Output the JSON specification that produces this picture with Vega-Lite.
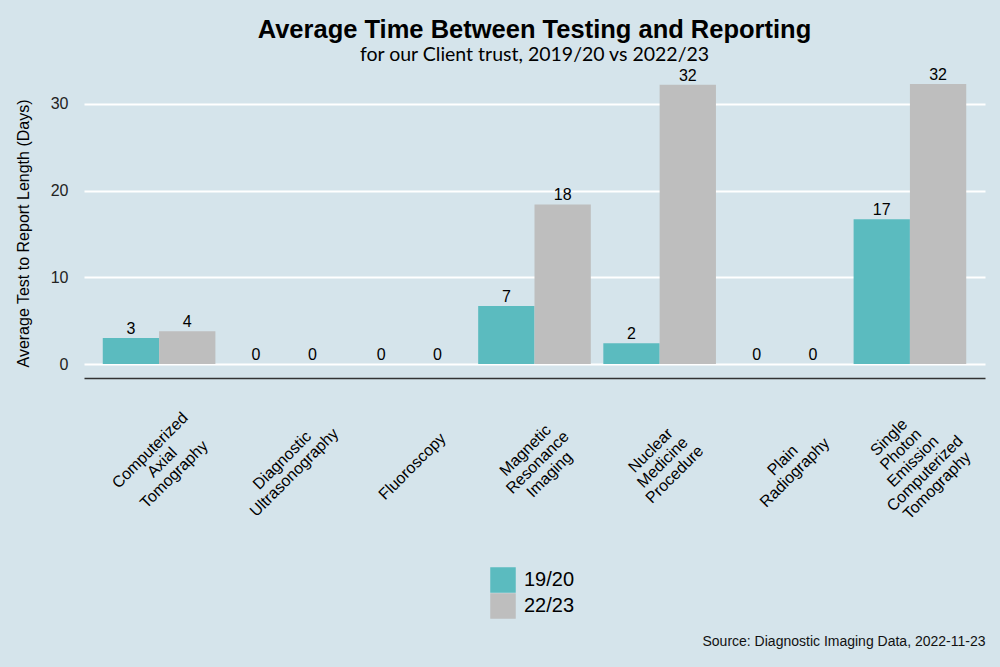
{
  "$schema": "https://vega.github.io/schema/vega-lite/v6.json",
  "autosize": "none",
  "width": 901,
  "height": 308,
  "padding": {"left": 84, "top": 70, "right": 15, "bottom": 289},
  "background": "#d5e4eb",
  "title": {
    "text": "Average Time Between Testing and Reporting",
    "subtitle": "for our Client trust, 2019/20 vs 2022/23",
    "anchor": "middle",
    "frame": "group",
    "font": "Liberation Sans",
    "fontSize": 25.5,
    "fontWeight": "bold",
    "color": "#000000",
    "subtitleFont": "Lato",
    "subtitleFontSize": 19.5,
    "subtitleColor": "#000000",
    "subtitlePadding": 3,
    "offset": 2
  },
  "config": {
    "view": {"stroke": null},
    "font": "Liberation Sans",
    "axis": {"labelFont": "Liberation Sans", "titleFont": "Liberation Sans"}
  },
  "data": {
    "values": [
      {"modality": "Computerized Axial Tomography", "year": "19/20", "days": 3.0},
      {"modality": "Computerized Axial Tomography", "year": "22/23", "days": 3.8},
      {"modality": "Diagnostic Ultrasonography", "year": "19/20", "days": 0},
      {"modality": "Diagnostic Ultrasonography", "year": "22/23", "days": 0},
      {"modality": "Fluoroscopy", "year": "19/20", "days": 0},
      {"modality": "Fluoroscopy", "year": "22/23", "days": 0},
      {"modality": "Magnetic Resonance Imaging", "year": "19/20", "days": 6.7},
      {"modality": "Magnetic Resonance Imaging", "year": "22/23", "days": 18.4},
      {"modality": "Nuclear Medicine Procedure", "year": "19/20", "days": 2.4},
      {"modality": "Nuclear Medicine Procedure", "year": "22/23", "days": 32.2},
      {"modality": "Plain Radiography", "year": "19/20", "days": 0},
      {"modality": "Plain Radiography", "year": "22/23", "days": 0},
      {"modality": "Single Photon Emission Computerized Tomography", "year": "19/20", "days": 16.7},
      {"modality": "Single Photon Emission Computerized Tomography", "year": "22/23", "days": 32.3}
    ]
  },
  "encoding": {
    "x": {
      "field": "modality",
      "type": "nominal",
      "sort": null,
      "scale": {"paddingInner": 0.1, "paddingOuter": 0.15},
      "axis": {
        "title": "Source: Diagnostic Imaging Data, 2022-11-23",
        "titleX": 901,
        "titleY": 267,
        "titleAlign": "right",
        "titleBaseline": "alphabetic",
        "titleFontSize": 14,
        "titleFontWeight": "normal",
        "titleColor": "#111111",
        "labelExpr": "split(datum.label, ' ')",
        "labelAngle": -45,
        "labelAlign": "center",
        "labelBaseline": "middle",
        "labelOffset": {
          "condition": [
            {"test": "length(split(datum.label, ' ')) >= 5", "value": -21},
            {"test": "length(split(datum.label, ' ')) == 3", "value": -9},
            {"test": "length(split(datum.label, ' ')) == 2", "value": -2}
          ],
          "value": 3
        },
        "labelPadding": {
          "condition": [
            {"test": "length(split(datum.label, ' ')) >= 5", "value": 59},
            {"test": "length(split(datum.label, ' ')) == 3", "value": 72},
            {"test": "length(split(datum.label, ' ')) == 2", "value": 82}
          ],
          "value": 88
        },
        "labelFontSize": 16,
        "labelLineHeight": 17,
        "labelColor": "#000000",
        "labelLimit": 400,
        "labelOverlap": false,
        "labelBound": false,
        "ticks": false,
        "domain": true,
        "domainColor": "#333333",
        "domainWidth": 1.5,
        "grid": false
      }
    },
    "xOffset": {"field": "year", "type": "nominal", "scale": {"paddingInner": 0, "paddingOuter": 0}},
    "y": {
      "field": "days",
      "type": "quantitative",
      "scale": {"domain": [-1.6, 33.9], "nice": false, "zero": false},
      "axis": {
        "title": "Average Test to Report Length (Days)",
        "titleFontSize": 16,
        "titleFontWeight": "normal",
        "titleColor": "#000000",
        "titlePadding": 19,
        "titleY": 163,
        "values": [0, 10, 20, 30],
        "labelFontSize": 16,
        "labelColor": "#222222",
        "labelPadding": 16,
        "ticks": false,
        "domain": false,
        "grid": true,
        "gridColor": "#ffffff",
        "gridWidth": 2.2
      }
    }
  },
  "layer": [
    {
      "mark": {"type": "bar"},
      "encoding": {
        "y2": {"datum": 0},
        "color": {
          "field": "year",
          "type": "nominal",
          "scale": {"domain": ["19/20", "22/23"], "range": ["#5bbbbf", "#bebebe"]},
          "legend": {
            "title": null,
            "orient": "none",
            "legendX": 406,
            "legendY": 497,
            "direction": "vertical",
            "symbolType": "square",
            "symbolSize": 650,
            "symbolStrokeWidth": 0,
            "labelFontSize": 20,
            "labelColor": "#000000",
            "labelOffset": 8,
            "rowPadding": 0,
            "padding": 0
          }
        }
      }
    },
    {
      "mark": {"type": "text", "baseline": "bottom", "dy": -1, "fontSize": 16, "color": "#000000"},
      "encoding": {
        "text": {"field": "days", "type": "quantitative", "format": ".0f"}
      }
    }
  ]
}
